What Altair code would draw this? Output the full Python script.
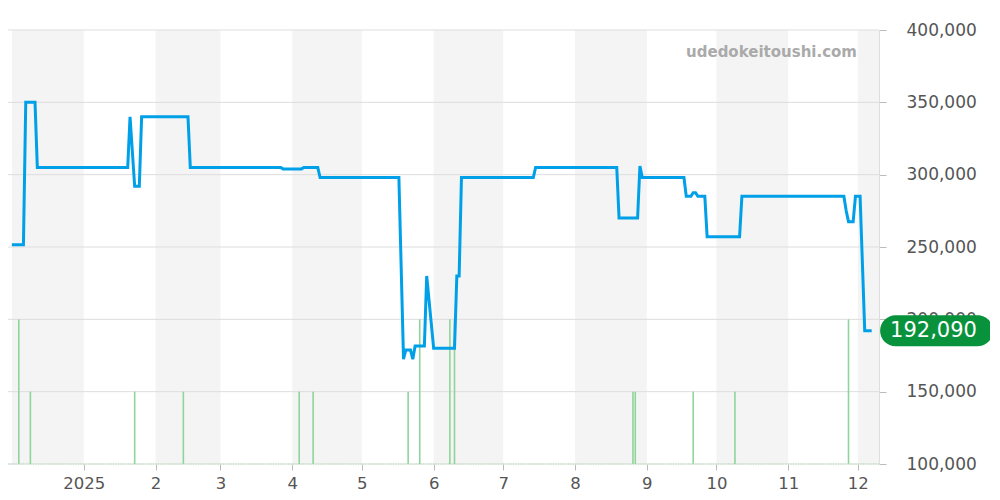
import altair as alt
import pandas as pd

# ---- data ----
price_dates = [
    "2024-12-01", "2024-12-06", "2024-12-07", "2024-12-11", "2024-12-12",
    "2025-01-20", "2025-01-21", "2025-01-23", "2025-01-25", "2025-01-26",
    "2025-02-15", "2025-02-16", "2025-03-27", "2025-03-28", "2025-04-05",
    "2025-04-06", "2025-04-12", "2025-04-13", "2025-05-17", "2025-05-19",
    "2025-05-20", "2025-05-22", "2025-05-23", "2025-05-24", "2025-05-28",
    "2025-05-29", "2025-06-01", "2025-06-10", "2025-06-11", "2025-06-12",
    "2025-06-13", "2025-07-14", "2025-07-15", "2025-08-19", "2025-08-20",
    "2025-08-28", "2025-08-29", "2025-08-30", "2025-09-17", "2025-09-18",
    "2025-09-20", "2025-09-21", "2025-09-22", "2025-09-23", "2025-09-26",
    "2025-09-27", "2025-10-11", "2025-10-12", "2025-11-25", "2025-11-26",
    "2025-11-27", "2025-11-29", "2025-11-30", "2025-12-02", "2025-12-04",
    "2025-12-07",
]
price_values = [
    251500, 251500, 350000, 350000, 305000,
    305000, 340000, 292000, 292000, 340000,
    340000, 305000, 305000, 304000, 304000,
    305000, 305000, 298000, 298000, 172500,
    178800, 178800, 172500, 181500, 181500,
    230000, 180000, 180000, 230000, 230000,
    298000, 298000, 305000, 305000, 270000,
    270000, 306000, 298000, 298000, 285000,
    285000, 287500, 287500, 285000, 285000,
    257000, 257000, 285000, 285000, 275000,
    267500, 267500, 285000, 285000, 192090,
    192090,
]
vol_dates = [
    "2024-12-04", "2024-12-09", "2025-01-23", "2025-02-13", "2025-04-04",
    "2025-04-10", "2025-05-21", "2025-05-26", "2025-06-08", "2025-06-10",
    "2025-08-26", "2025-08-27", "2025-09-21", "2025-10-09", "2025-11-27",
]
vol_counts = [2, 1, 1, 1, 1, 1, 1, 2, 2, 2, 1, 1, 1, 1, 2]

band_starts = ["2024-12-01", "2025-02-01", "2025-04-01", "2025-06-01",
               "2025-08-01", "2025-10-01", "2025-12-01"]
band_ends = ["2025-01-01", "2025-03-01", "2025-05-01", "2025-07-01",
             "2025-09-01", "2025-11-01", "2026-01-01"]
month_ticks = ["2025-01-01", "2025-02-01", "2025-03-01", "2025-04-01",
               "2025-05-01", "2025-06-01", "2025-07-01", "2025-08-01",
               "2025-09-01", "2025-10-01", "2025-11-01", "2025-12-01"]
y_ticks = [100000, 150000, 200000, 250000, 300000, 350000, 400000]
last_price = 192090
watermark = "udedokeitoushi.com"


def ts(s):
    return int(pd.Timestamp(s, tz="UTC").timestamp() * 1000)


price_df = pd.DataFrame({"date": price_dates, "price": price_values})
vol_df = pd.DataFrame({"date": vol_dates, "count": vol_counts})
band_df = pd.DataFrame({"date": band_starts, "date_end": band_ends})
grid_df = pd.DataFrame({"price": y_ticks})
last_df = pd.DataFrame({"price": [last_price]})
base_df = pd.DataFrame({"count": [0]})
wm_df = pd.DataFrame({"t": [watermark]})

FONT = "DejaVu Sans"
xscale = alt.Scale(type="utc", domain=[ts("2024-12-01 12:00"), ts("2025-12-08 00:00")])
xaxis = alt.Axis(
    values=[ts(m) for m in month_ticks],
    labelExpr="utcmonth(datum.value) == 0 ? '' + utcyear(datum.value) : '' + (utcmonth(datum.value) + 1)",
    title=None, domain=False, grid=False, tickSize=6, tickColor="#bbbbbb",
    labelFontSize=16.5, labelColor="#555555", labelPadding=5, labelFont=FONT,
    labelOverlap=False,
)
pscale = alt.Scale(domain=[100000, 400000], nice=False, zero=False)
yaxis = alt.Axis(
    orient="right", values=y_ticks, format=",d", title=None, grid=False,
    tickSize=7, tickColor="#bbbbbb", domainColor="#dddddd",
    labelFontSize=17, labelColor="#555555", labelPadding=20, labelFont=FONT,
)
vscale = alt.Scale(domain=[0, 6], nice=False)

bands = alt.Chart(band_df).mark_rect(color="#f4f4f4", clip=True).encode(
    x=alt.X("date:T", scale=xscale, axis=xaxis), x2="date_end:T"
)
grid = alt.Chart(grid_df).mark_rule(color="#dddddd", strokeWidth=1).encode(
    y=alt.Y("price:Q", scale=pscale, axis=None)
)
vol = alt.Chart(vol_df).mark_bar(width=1.6, color="#8fd49a", clip=True).encode(
    x=alt.X("date:T", scale=xscale, axis=xaxis),
    y=alt.Y("count:Q", scale=vscale, axis=None),
)
base = alt.Chart(base_df).mark_rule(color="#a5dbad", strokeDash=[1, 1.5], strokeWidth=1.2).encode(
    y=alt.Y("count:Q", scale=vscale, axis=None)
)
line = alt.Chart(price_df).mark_line(color="#00a0e9", strokeWidth=3, clip=True).encode(
    x=alt.X("date:T", scale=xscale, axis=xaxis),
    y=alt.Y("price:Q", scale=pscale, axis=yaxis),
)
pill = "M-0.726,-0.274 L0.726,-0.274 A0.274,0.274 0 0 1 0.726,0.274 L-0.726,0.274 A0.274,0.274 0 0 1 -0.726,-0.274 Z"
badge = alt.Chart(last_df).mark_point(
    shape=pill, size=12769, filled=True, color="#08923c", opacity=1, strokeWidth=0
).encode(x=alt.value(928.6), y=alt.Y("price:Q", scale=pscale, axis=None))
badge_text = alt.Chart(last_df).mark_text(
    color="white", fontSize=21, font=FONT, align="center", baseline="middle"
).encode(
    x=alt.value(925.5),
    y=alt.Y("price:Q", scale=pscale, axis=None),
    text=alt.Text("price:Q", format=",d"),
)
wm = alt.Chart(wm_df).mark_text(
    color="#aaaaaa", fontSize=15, fontWeight="bold", font=FONT, align="right", baseline="middle"
).encode(x=alt.value(849), y=alt.value(22), text="t:N")

chart = alt.layer(bands, grid, vol, base, line, badge, badge_text, wm).resolve_scale(
    y="independent"
).properties(
    width=871, height=434,
    padding={"left": 0, "top": 22, "right": 111, "bottom": 28},
    autosize=alt.AutoSizeParams(type="none"),
).configure_view(stroke=None)

chart.save("out.html", embed_options={"renderer": "svg", "actions": False})
